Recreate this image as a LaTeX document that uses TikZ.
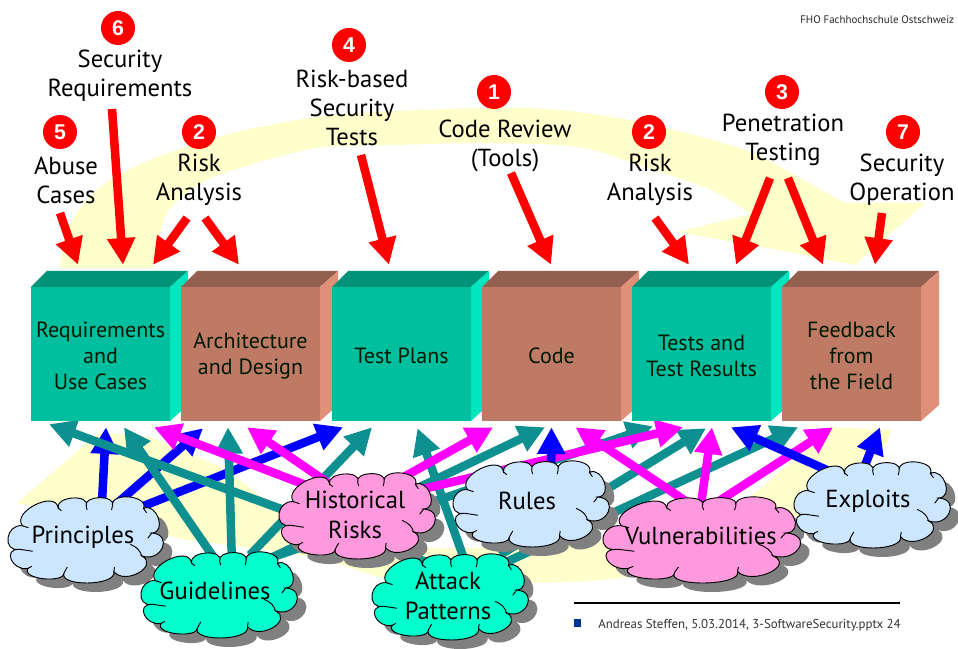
\documentclass[tikz,border=0pt]{standalone}
\usepackage{fontspec}
\usetikzlibrary{arrows.meta,calc}
\setmainfont{PT Sans}
\newfontfamily\numfont{Liberation Sans}
\pgfdeclarelayer{backl}
\pgfdeclarelayer{midl}
\pgfsetlayers{backl,midl,main}
\definecolor{yel}{HTML}{FFFFCC}
\definecolor{tealF}{HTML}{00BF9F}
\definecolor{tealT}{HTML}{00937A}
\definecolor{tealS}{HTML}{00E6BF}
\definecolor{brnF}{HTML}{BF7A66}
\definecolor{brnT}{HTML}{936050}
\definecolor{brnS}{HTML}{E08F78}
\definecolor{cBlue}{HTML}{CCE6FF}
\definecolor{cPink}{HTML}{FF99DD}
\definecolor{cGreen}{HTML}{00FFCC}
\definecolor{shad}{HTML}{808080}
\definecolor{aTeal}{HTML}{0F9090}
\definecolor{aBlue}{HTML}{0000FF}
\definecolor{aMag}{HTML}{FF00FF}
\definecolor{aRed}{HTML}{FF0000}
\definecolor{footB}{HTML}{003399}
\def\lobe(#1,#2)(#3,#4)(#5,#6){ .. controls ({#1+4/3*(#5-(#1+#3)/2)-0.12*(#3-#1)},{#2+4/3*(#6-(#2+#4)/2)-0.12*(#4-#2)}) and ({#3+4/3*(#5-(#1+#3)/2)+0.12*(#3-#1)},{#4+4/3*(#6-(#2+#4)/2)+0.12*(#4-#2)}) .. (#3,#4) }
\newcommand{\cloudoutline}{(44,88)
 \lobe(44,88)(152,33)(82,24)
 \lobe(152,33)(237,28)(197,3)
 \lobe(237,28)(317,26)(277,2)
 \lobe(317,26)(411,35)(368,0)
 \lobe(411,35)(436,110)(456,65)
 \lobe(436,110)(406,180)(468,155)
 \lobe(406,180)(321,228)(396,232)
 \lobe(321,228)(171,230)(241,263)
 \lobe(171,230)(61,218)(108,250)
 \lobe(61,218)(35,160)(10,192)
 \lobe(35,160)(44,88)(0,125) -- cycle}
\newcommand{\cloudticks}{
 (44,88) -- (62,94)
 (35,160) .. controls (50,162) .. (75,166)
 (152,33) -- (162,42)
 (237,28) -- (240,40)
 (317,26) -- (314,40)
 (411,35) -- (420,48)
 (436,110) -- (424,126)
 (406,182) .. controls (402,165) and (390,152) .. (371,145)
 (321,228) -- (323,214)
 (171,230) -- (180,214)
 (61,218) -- (72,212)}
\newcommand{\cloudnode}[8]{%
 \begin{scope}[shift={(#2+9,#3+9)},xscale=#4/470,yscale=86/263]
  \fill[shad] \cloudoutline;
 \end{scope}
 \begin{scope}[shift={(#2,#3)},xscale=#4/470,yscale=86/263]
  \filldraw[fill=#5,draw=black,line width=0.7pt] \cloudoutline;
  \draw[black,line width=0.7pt] \cloudticks;
 \end{scope}
 \node[cloudtext] (#1) at (#6,#7) {#8};}
\newcommand{\boxnode}[6]{%
 \fill[#3] (#2,287) -- (#2+16,271) -- (#2+139+18,271) -- (#2+139,287) -- cycle;
 \fill[#4] (#2+139,287) -- (#2+139+18,271) -- (#2+139+18,405) -- (#2+139,421) -- cycle;
 \node[boxshape,fill=#5,label={[boxtext]center:#6}] (#1) at (#2+69.5,354) {};}
\tikzset{
 cloudtext/.style={align=center,inner sep=0pt,font=\fontsize{18.5}{22}\selectfont},
 boxshape/.style={inner sep=0pt,minimum width=104.25pt,minimum height=100.5pt},
 boxtext/.style={align=center,inner sep=0pt,yshift=-1.5pt,font=\fontsize{16.5}{19.5}\selectfont,text=black!90!green},
 toplabel/.style={align=center,inner sep=0pt,font=\fontsize{18.5}{21.75}\selectfont},
 redball/.style={circle,fill=aRed,text=white,inner sep=0pt,minimum size=25.5pt,font=\numfont\bfseries\fontsize{16}{16}\selectfont},
 conn/.style={line width=6.4pt,-{Triangle[length=20pt,width=20pt]}},
 redarrow/.style={conn,aRed},
 bluearrow/.style={conn,aBlue},
 tealarrow/.style={conn,aTeal},
 magarrow/.style={conn,aMag},
 foot/.style={inner sep=0pt,text=black!80,font=\fontsize{9.65}{11}\selectfont,anchor=base west}
}
\begin{document}
\begin{tikzpicture}[x=0.75pt,y=-0.75pt]
\useasboundingbox (0,0) rectangle (958,649);
% yellow cycle
\begin{pgfonlayer}{backl}
\fill[white] (0,0) rectangle (958,649);
\fill[yel] plot[smooth] coordinates {(60,268) (63,245) (72,220) (100,187) (150,160) (233,133) (333,115) (480,108) (560,110) (645,123) (745,150) (800,178) (845,203)}
 -- (925,203) -- (855,265) -- plot[smooth] coordinates {(855,265) (778,250) (678,232)}
 -- (751,214) -- plot[smooth] coordinates {(751,214) (711,190) (645,167) (578,147) (480,143) (400,145) (317,148) (243,167) (203,182) (167,213) (153,268)} -- cycle;
\fill[yel] (17,503) -- (100,432) -- (150,437)
 -- plot[smooth] coordinates {(150,437) (225,470) (285,515) (340,540) (423,548) (520,546) (640,535) (750,497)}
 -- (833,427) -- (892,430) -- (887,443) -- (870,463)
 -- plot[smooth] coordinates {(870,463) (797,517) (700,555) (620,578) (527,583) (450,585) (383,578) (313,557) (187,540)} -- cycle;
\end{pgfonlayer}
% boxes
\boxnode{req}{31}{tealT}{tealS}{tealF}{Requirements\\and\\Use Cases}
\boxnode{arch}{181}{brnT}{brnS}{brnF}{Architecture\\and Design}
\boxnode{plans}{332}{tealT}{tealS}{tealF}{Test Plans}
\boxnode{code}{482}{brnT}{brnS}{brnF}{Code}
\boxnode{tests}{632}{tealT}{tealS}{tealF}{Tests and\\Test Results}
\boxnode{field}{782}{brnT}{brnS}{brnF}{Feedback\\from\\the Field}
% top labels
\node[toplabel] (lsec) at (120,76) {Security\\Requirements};
\node[toplabel] (labuse) at (66,180) {Abuse\\Cases};
\node[toplabel] (lrisk) at (199,180) {Risk\\Analysis};
\node[toplabel] (ltests) at (352,108) {Risk-based\\Security\\Tests};
\node[toplabel] (lcode) at (505,146) {Code Review\\(Tools)};
\node[toplabel] (lrisktwo) at (650,180) {Risk\\Analysis};
\node[toplabel] (lpen) at (783,140) {Penetration\\Testing};
\node[toplabel] (lop) at (902,180) {Security\\Operation};
\node[redball] (n6) at (118,28) {6};
\node[redball] (n5) at (60,132) {5};
\node[redball] (n2a) at (199,132) {2};
\node[redball] (n4) at (349,45) {4};
\node[redball] (n1) at (494,92) {1};
\node[redball] (n2b) at (649,132) {2};
\node[redball] (n3) at (782,92) {3};
\node[redball] (n7) at (903,132) {7};
% red arrows
\draw[redarrow] ($(labuse)+(-6,33)$) -- ($(req.north)+(-22.5,-22)$);
\draw[redarrow] ($(lsec)+(-8,33)$) -- ($(req.north)+(22.5,-22)$);
\draw[redarrow] ($(lrisk)+(-12,38)$) -- ($(req.north)+(52.5,-22)$);
\draw[redarrow] ($(lrisk)+(6,38)$) -- ($(arch.north)+(-11.5,-22)$);
\draw[redarrow] ($(ltests)+(9,47)$) -- ($(plans.north)+(-12.5,-22)$);
\draw[redarrow] ($(lcode)+(6,27)$) -- ($(code.north)+(-0.5,-22)$);
\draw[redarrow] ($(lrisktwo)+(5,38)$) -- ($(tests.north)+(-12.5,-22)$);
\draw[redarrow] ($(lpen)+(-13,38)$) -- ($(tests.north)+(34.5,-22)$);
\draw[redarrow] ($(lpen)+(5,38)$) -- ($(field.north)+(-28.5,-22)$);
\draw[redarrow] ($(lop)+(-20,33)$) -- ($(field.north)+(23.5,-22)$);
% clouds
\cloudnode{principles}{8}{497}{155}{cBlue}{83}{537}{Principles}
\cloudnode{guidelines}{141}{552}{156}{cGreen}{215}{591}{Guidelines}
\cloudnode{historical}{279}{473}{156}{cPink}{355}{515}{Historical\\Risks}
\cloudnode{attack}{372}{554}{156}{cGreen}{448}{596}{Attack\\Patterns}
\cloudnode{rules}{453}{461}{156}{cBlue}{527}{501}{Rules}
\cloudnode{vuln}{603}{497}{197}{cPink}{701}{536}{Vulnerabilities}
\cloudnode{exploits}{794}{462}{156}{cBlue}{868}{501}{Exploits}
% lower arrows
\begin{pgfonlayer}{midl}
\draw[bluearrow] ($(principles)+(18,-17)$) -- ($(req.south)+(5.5,6)$);
\draw[bluearrow] ($(principles)+(15,-17)$) -- ($(arch.south)+(-47.5,7)$);
\draw[bluearrow] ($(principles)+(25,-17)$) -- ($(plans.south)+(-58.5,6)$);
\draw[tealarrow] ($(guidelines)+(4,-26)$) -- ($(req.south)+(23.5,6)$);
\draw[tealarrow] ($(guidelines)+(17,-26)$) -- ($(arch.south)+(-22.5,6)$);
\draw[tealarrow] ($(guidelines)+(35,-36)$) -- ($(plans.south)+(-29.5,6)$);
\draw[tealarrow] ($(guidelines)+(58,-34)$) -- ($(code.south)+(-6.5,6)$);
\draw[tealarrow] ($(guidelines)+(58,-34)$) -- ($(tests.south)+(-48.5,5)$);
\draw[tealarrow] ($(attack)+(-8,-29)$) -- ($(req.south)+(-51.5,3)$);
\draw[tealarrow] ($(attack)+(20,-26)$) -- ($(plans.south)+(16,7)$);
\draw[tealarrow] ($(attack)+(52,-31)$) -- ($(field.south)+(-53.5,6)$);
\draw[tealarrow] ($(attack)+(52,-41)$) -- ($(tests.south)+(4.5,7)$);
\draw[magarrow] ($(historical)+(-15,-17)$) -- ($(req.south)+(53.5,6)$);
\draw[magarrow] ($(historical)+(-5,-17)$) -- ($(arch.south)+(-3.5,6)$);
\draw[magarrow] ($(historical)+(20,-22)$) -- ($(code.south)+(-58.5,6)$);
\draw[magarrow] ($(historical)+(30,-17)$) -- ($(tests.south)+(-18.5,6)$);
\draw[magarrow] ($(vuln)+(10,-18)$) -- ($(code.south)+(24,6)$);
\draw[magarrow] ($(vuln)+(-2,-18)$) -- ($(tests.south)+(10.5,6)$);
\draw[magarrow] ($(vuln)+(-2,-22)$) -- ($(field.south)+(-18.5,6)$);
\draw[bluearrow] ($(rules)+(24,-17)$) -- ($(code.south)+(0,6)$);
\draw[bluearrow] ($(exploits)+(-12,-18)$) -- ($(tests.south)+(29.5,6)$);
\draw[bluearrow] ($(exploits)+(-10,-18)$) -- ($(field.south)+(28.5,6)$);
\end{pgfonlayer}
% footer
\coordinate (footl) at (574,603);
\coordinate (footr) at (900,603);
\draw[black,line width=2pt] (footl) -- (footr);
\fill[footB] (574,619) rectangle (581,627);
\node[foot] (foottext) at (598,628) {Andreas Steffen, 5.03.2014, 3-SoftwareSecurity.pptx 24};
\node[inner sep=0pt,anchor=base west,text=black!85,font=\fontsize{8.2}{9}\selectfont] (fho) at (800,24) {FHO Fachhochschule Ostschweiz};
\end{tikzpicture}
\end{document}
